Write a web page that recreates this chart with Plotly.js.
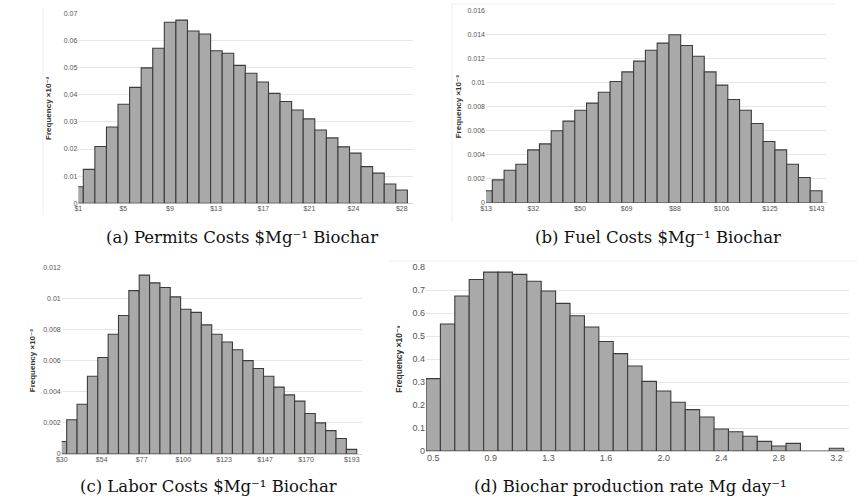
<!DOCTYPE html>
<html><head><meta charset="utf-8">
<script src="https://cdn.plot.ly/plotly-3.0.1.min.js"></script>
<style>html,body{margin:0;padding:0;background:#fff}#chart{width:867px;height:502px}</style>
</head><body><div id="chart"></div>
<script>
// Histogram frequencies (per bin, left to right)
const permitsFreq = [0.0061,0.0125,0.0209,0.0281,0.0365,0.0427,0.0499,0.0571,0.0667,0.0675,0.0635,0.0624,0.0562,0.0553,0.0508,0.0479,0.0447,0.0405,0.0375,0.0344,0.0311,0.0270,0.0241,0.0208,0.0185,0.0135,0.0111,0.0071,0.0049];
const permitsTicks = ['$1','$5','$9','$13','$17','$21','$24','$28'];

const fuelFreq = [0.0010,0.0019,0.0027,0.0032,0.0044,0.0049,0.0060,0.0068,0.0077,0.0083,0.0092,0.0101,0.0109,0.0118,0.0127,0.0133,0.0140,0.0131,0.0122,0.0109,0.0098,0.0086,0.0077,0.0066,0.0051,0.0044,0.0032,0.0021,0.0010];
const fuelTicks = ['$13','$32','$50','$69','$88','$106','$125','$143'];

const laborFreq = [0.0008,0.0022,0.0032,0.0050,0.0062,0.0077,0.0089,0.0105,0.0115,0.0110,0.0107,0.0101,0.0093,0.0091,0.0083,0.0077,0.0072,0.0067,0.0060,0.0055,0.0050,0.0043,0.0038,0.0034,0.0026,0.0020,0.0015,0.0010,0.0003];
const laborTicks = ['$30','$54','$77','$100','$123','$147','$170','$193'];

const rateFreq = [0.315,0.553,0.675,0.747,0.779,0.779,0.769,0.739,0.697,0.643,0.589,0.540,0.477,0.424,0.370,0.303,0.261,0.212,0.180,0.148,0.096,0.084,0.064,0.042,0.022,0.033,0,0,0.012];
const rateTicks = ['0.5','0.9','1.3','1.6','2.0','2.4','2.8','3.2'];

const captions = [
  '(a) Permits Costs $Mg⁻¹ Biochar',
  '(b) Fuel Costs $Mg⁻¹ Biochar',
  '(c) Labor Costs $Mg⁻¹ Biochar',
  '(d) Biochar production rate Mg day⁻¹'
];
const yTitle = 'Frequency ×10⁻³';

// panel layout (positions only)
const W = 867, H = 502;
const panels = [
  {freq: permitsFreq, ticks: permitsTicks, px: [78.3, 412.7], py: [13.3, 203.3], xr: [0.068, 28.96], tv: [0.07,3.96,7.99,11.97,16.06,20.04,23.84,28.02], yr: [0, 0.07], dy: 0.01, fs: 7, so: 10, cap: [242, 237]},
  {freq: fuelFreq, ticks: fuelTicks, px: [486, 826.7], py: [10.7, 202.7], xr: [-0.038, 28.9], tv: [-0.03,3.98,7.95,11.91,16.02,19.98,24.08,28.05], yr: [0, 0.016], dy: 0.002, fs: 7, so: 4, cap: [658, 237]},
  {freq: laborFreq, ticks: laborTicks, px: [61.7, 361.7], py: [267.3, 454], xr: [0.017, 28.98], tv: [0.02,3.88,7.74,11.76,15.69,19.65,23.61,28.02], yr: [0, 0.012], dy: 0.002, fs: 7, so: 6, cap: [208, 486]},
  {freq: rateFreq, ticks: rateTicks, px: [426, 849], py: [267.3, 451], xr: [-0.5, 28.87], tv: [0,4,8,12,16,20,24,28], yr: [0, 0.8], dy: 0.1, fs: 9, so: 8, cap: [630, 486]}
];

const traces = [];
const layout = {
  width: W, height: H,
  margin: {l: 0, r: 0, t: 0, b: 0},
  paper_bgcolor: '#fff', plot_bgcolor: '#fff',
  showlegend: false, bargap: 0,
  font: {family: 'Liberation Sans, Arial, sans-serif', color: '#444'},
  annotations: [], shapes: []
};

panels.forEach((p, i) => {
  const n = i + 1;
  const xa = 'x' + (n === 1 ? '' : n), ya = 'y' + (n === 1 ? '' : n);
  traces.push({
    type: 'bar',
    x: p.freq.map((_, k) => k),
    y: p.freq,
    width: 1,
    xaxis: xa, yaxis: ya,
    marker: {color: '#a9a9a9', line: {color: '#3c3c3c', width: 1.1}},
    hoverinfo: 'y'
  });
  const xKey = 'xaxis' + (n === 1 ? '' : n), yKey = 'yaxis' + (n === 1 ? '' : n);
  layout[xKey] = {
    domain: [p.px[0] / W, p.px[1] / W],
    anchor: ya, range: p.xr,
    tickmode: 'array', tickvals: p.tv, ticktext: p.ticks,
    showgrid: false, zeroline: false, showline: false, ticks: '',
    tickfont: {size: p.fs, color: '#555'}, fixedrange: true
  };
  layout[yKey] = {
    domain: [(H - p.py[1]) / H, (H - p.py[0]) / H],
    anchor: xa, range: p.yr, dtick: p.dy, tick0: 0,
    showgrid: true, gridcolor: '#e6e6e6', gridwidth: 1,
    zeroline: true, zerolinecolor: '#cfcfcf', zerolinewidth: 1,
    showline: false, ticks: '',
    tickfont: {size: p.fs, color: '#555'},
    title: {text: yTitle, font: {size: n === 4 ? 8.5 : 8, color: '#333', family: 'Liberation Sans, DejaVu Sans, Arial, sans-serif', weight: 'bold'}, standoff: p.so},
    fixedrange: true
  };
  layout.annotations.push({
    xref: 'paper', yref: 'paper',
    x: p.cap[0] / W, y: (H - p.cap[1]) / H,
    xanchor: 'center', yanchor: 'middle',
    text: captions[i], showarrow: false,
    font: {family: 'DejaVu Serif, serif', size: 16.5, color: '#111'}
  });
});

// faint frame lines of the original panel images
const frame = (x0, y0, x1, y1) => ({type: 'line', xref: 'paper', yref: 'paper', x0: x0 / W, x1: x1 / W, y0: (H - y0) / H, y1: (H - y1) / H, line: {color: '#efefef', width: 1}});
layout.shapes.push(frame(43, 8, 43, 215), frame(450, 4, 835, 4), frame(452, 4, 452, 222), frame(389, 261, 857, 261));

Plotly.newPlot('chart', traces, layout, {displayModeBar: false, staticPlot: true});
</script>
</body></html>
